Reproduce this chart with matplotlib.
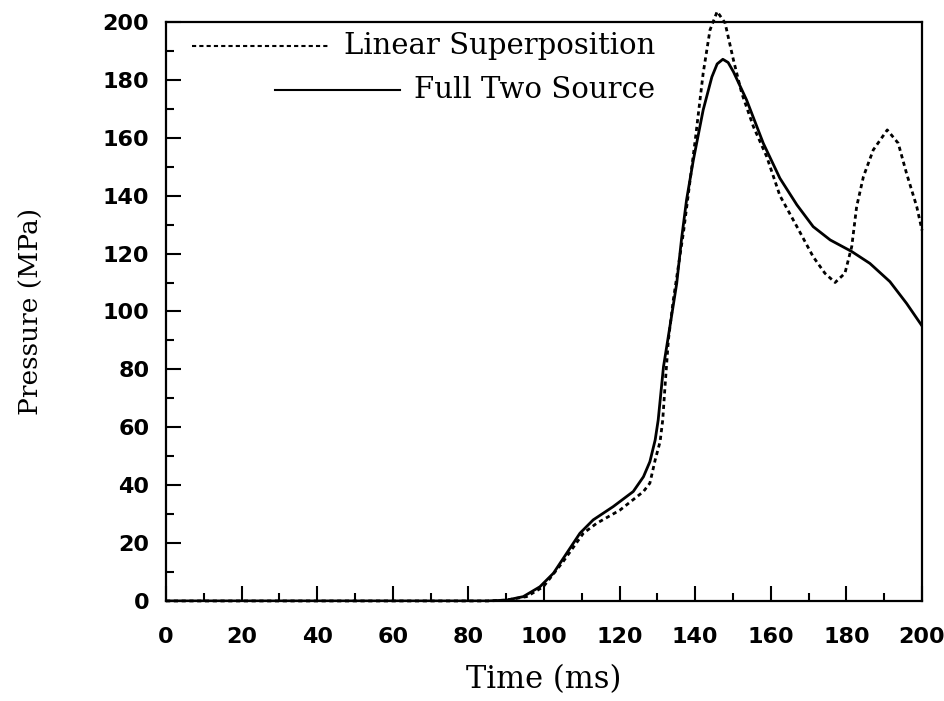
import matplotlib
matplotlib.use("Agg")
import matplotlib.pyplot as plt
from matplotlib.ticker import MultipleLocator

# data (time in ms, pressure in MPa)
t_full = [0, 85, 90.1, 94.5, 98.9, 102.5, 106, 109.5, 113, 118.3, 123.6, 126.3, 128, 129.4,
          130.2, 131.6, 133.3, 135.1, 136.4, 137.7, 139.5, 142.1, 144.4, 145.8, 147.3, 148.7,
          150.1, 153.6, 158, 162.4, 166.9, 171.2, 175.7, 181.4, 186.2, 191.5, 195.9, 200]
p_full = [0, 0, 0.3, 1.5, 4.9, 9.6, 16.5, 23.4, 28, 32.6, 37.8, 42.9, 48.1, 55.6,
          62.5, 80.9, 94.8, 109.7, 125.3, 138.5, 152.3, 169.6, 181, 185.5, 187.1, 186,
          182.8, 173, 158.1, 146, 136.8, 129.3, 124.7, 120.7, 116.6, 110.3, 102.8, 95]

t_lin = [0, 85, 90, 95.4, 99.8, 105, 110.4, 113.9, 120.1, 126.3, 128, 129.4, 130.7, 131.4,
         132, 132.9, 134.2, 136.9, 140, 142.1, 143.9, 145.8, 147.9, 150.1, 152.3, 155.4,
         158.9, 162.4, 166.9, 171.2, 174.3, 177, 179.6, 181.4, 182.7, 184.5, 187.1, 190.8,
         193.7, 195.9, 198.6, 200]
p_lin = [0, 0, 0.3, 1.5, 4.9, 13.5, 23.4, 26.8, 31.4, 37.8, 40.7, 48.7, 55, 62.5,
         74, 90.2, 104, 127.5, 159.2, 182.3, 197.2, 203.6, 199.6, 186.9, 175.4, 163.8,
         153.5, 140, 129.3, 118.9, 113.2, 110, 113.2, 122.4, 136.2, 146.6, 155.8, 162.7,
         158.1, 147.7, 136.2, 128]

serif = ["DejaVu Serif"]

fig = plt.figure(figsize=(9.45, 7.01), dpi=100)
ax = fig.add_axes([0.1757, 0.1427, 0.8, 0.826])

ax.plot(t_lin, p_lin, color="black", lw=2, ls=(0, (1.5, 1.3)), clip_on=False)
ax.plot(t_full, p_full, color="black", lw=2)

ax.set_xlim(0, 200)
ax.set_ylim(0, 200)
ax.xaxis.set_major_locator(MultipleLocator(20))
ax.xaxis.set_minor_locator(MultipleLocator(10))
ax.yaxis.set_major_locator(MultipleLocator(20))
ax.yaxis.set_minor_locator(MultipleLocator(10))
ax.tick_params(which="major", direction="in", length=11, width=1.5, labelsize=16)
ax.tick_params(which="minor", direction="in", length=6, width=1.5)
ax.tick_params(axis="x", which="major", pad=19)
ax.tick_params(axis="y", which="major", pad=12)
for lab in ax.get_xticklabels() + ax.get_yticklabels():
    lab.set_fontweight("bold")
for s in ax.spines.values():
    s.set_linewidth(1.6)

ax.set_xlabel("Time (ms)", fontsize=22, family=serif, labelpad=12)
ax.set_ylabel("Pressure (MPa)", fontsize=19, family=serif, labelpad=42)

# legend drawn by hand: keys of different length, labels right-aligned
ax.plot([0.034, 0.217], [0.9585, 0.9585], transform=ax.transAxes, color="black",
        lw=1.5, ls=(0, (2, 1.5)))
ax.text(0.647, 0.9585, "Linear Superposition", transform=ax.transAxes, ha="right",
        va="center", fontsize=21, family=serif)
ax.plot([0.144, 0.310], [0.8826, 0.8826], transform=ax.transAxes, color="black", lw=1.5)
ax.text(0.647, 0.8826, "Full Two Source", transform=ax.transAxes, ha="right",
        va="center", fontsize=21, family=serif)

fig.savefig("out.png", dpi=100)
